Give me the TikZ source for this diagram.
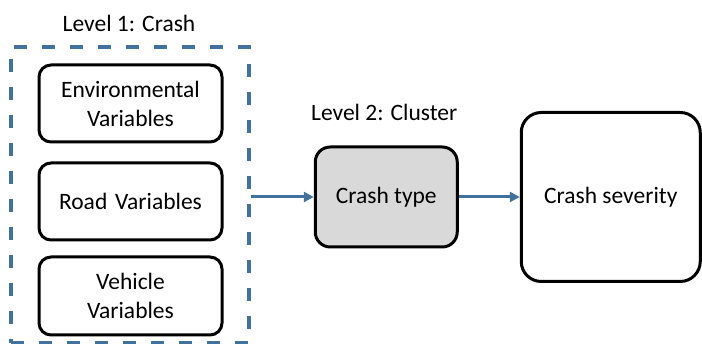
\documentclass[tikz,border=0pt]{standalone}
\usepackage{fontspec}
\setmainfont{Carlito}
\usepackage{tikz}
\usetikzlibrary{shapes.geometric, arrows.meta, calc, positioning}
\definecolor{levelblue}{RGB}{65,113,157}
\definecolor{typegray}{RGB}{217,217,217}
\tikzstyle{varbox} = [rectangle, rounded corners=12pt, line width=3pt, minimum width=183pt, minimum height=77pt, text width=175pt, align=center, draw=black]
\tikzstyle{levelbox} = [rectangle, line width=3.5pt, draw=levelblue, dash pattern=on 13pt off 15pt, minimum width=238pt, minimum height=296pt]
\tikzstyle{block} = [rectangle, line width=3pt, text centered, draw=black]
\tikzstyle{arrow} = [line width=3pt, draw=levelblue, ->, >={Triangle[length=10pt, width=10pt]}]

\begin{document}
\begin{tikzpicture}[node distance = 18pt, auto, font=\fontsize{23.5}{29}\selectfont]
	\useasboundingbox (0,0) rectangle (702pt,344pt);
	\node (RoadVars) [varbox] at (130.5pt,142.5pt) {Road Variables};
	\node (EnvVars) [varbox, above = 18pt of RoadVars] {Environmental\\Variables};
	\node (VehicleVars) [varbox, below = 14pt of RoadVars, minimum height=78pt] {Vehicle\\Variables};
	\node (Level1) [levelbox] at (130pt,149pt) {};
	\node (Level1Label) [above = 10pt of Level1, xshift=-1pt] {Level 1: Crash};
	\node (CrashType) [block, fill=typegray, rounded corners=15pt, minimum width=142pt, minimum height=100pt, right = 63pt of Level1, yshift=-2pt] {Crash type};
	\node (Level2Label) [above = 21pt of CrashType, xshift=-2pt] {Level 2: Cluster};
	\node (CrashSeverity) [block, rounded corners=20pt, minimum width=179pt, minimum height=169pt, right = 61pt of CrashType] {Crash severity};
	\draw [arrow] (Level1.east |- CrashType) -- (CrashType);
	\draw [arrow] (CrashType) -- (CrashSeverity);
\end{tikzpicture}
\end{document}
